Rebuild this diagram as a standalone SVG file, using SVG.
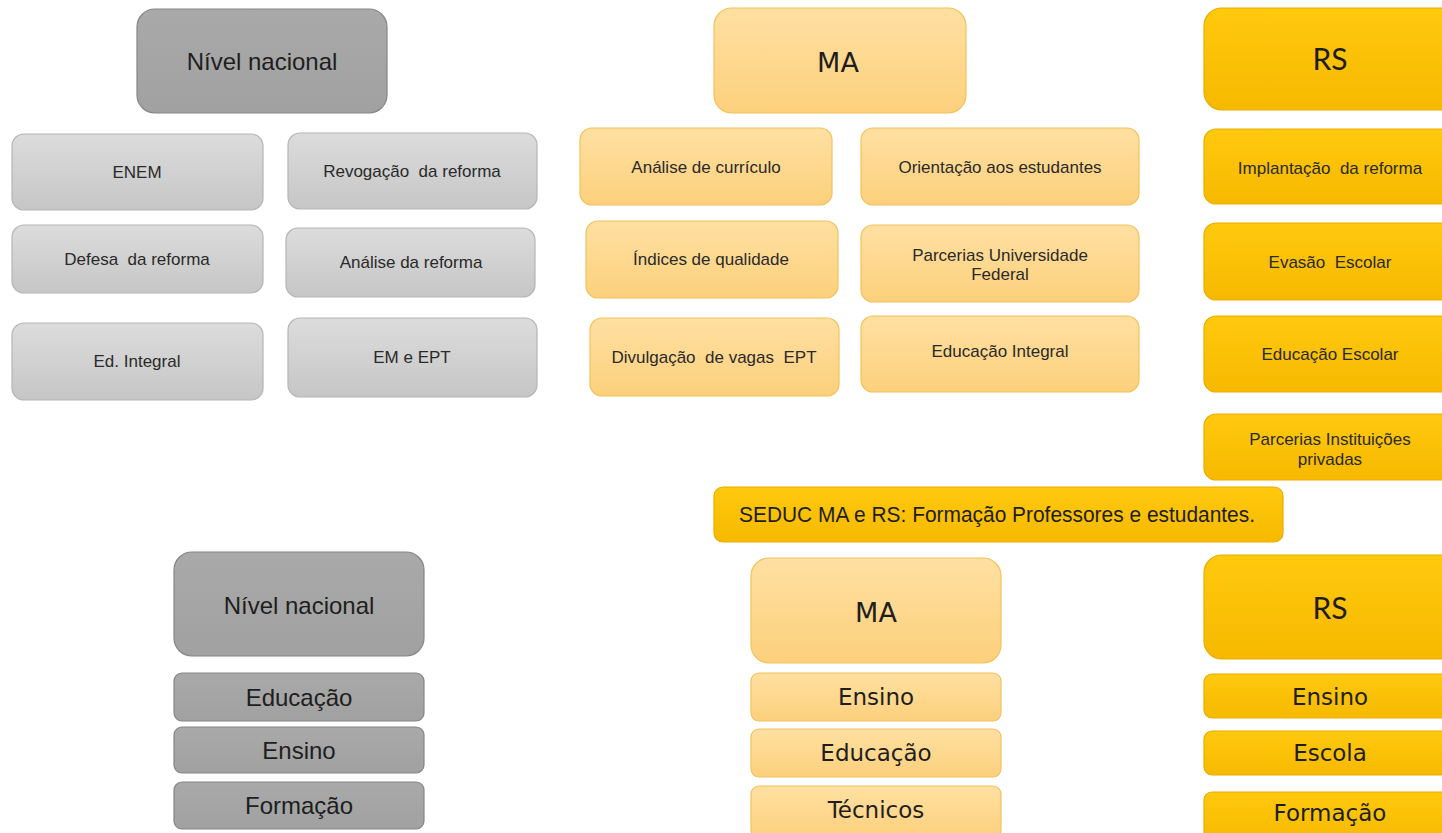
<svg xmlns="http://www.w3.org/2000/svg" width="1442" height="833" viewBox="0 0 1442 833">
  <defs>
    <linearGradient id="gLight" x1="0" y1="0" x2="0" y2="1">
      <stop offset="0" stop-color="#dcdcdc"/>
      <stop offset="1" stop-color="#c6c6c6"/>
    </linearGradient>
    <linearGradient id="gDark" x1="0" y1="0" x2="0" y2="1">
      <stop offset="0" stop-color="#a9a9a9"/>
      <stop offset="1" stop-color="#a1a1a1"/>
    </linearGradient>
    <linearGradient id="gMA" x1="0" y1="0" x2="0" y2="1">
      <stop offset="0" stop-color="#ffe0a2"/>
      <stop offset="1" stop-color="#fcd07c"/>
    </linearGradient>
    <linearGradient id="gRS" x1="0" y1="0" x2="0" y2="1">
      <stop offset="0" stop-color="#ffc90e"/>
      <stop offset="1" stop-color="#f6b900"/>
    </linearGradient>
    <style>
      .light { fill: url(#gLight); stroke: #b5b5b5; stroke-width: 1.2; }
      .dark { fill: url(#gDark); stroke: #858585; stroke-width: 1.2; }
      .ma { fill: url(#gMA); stroke: #f2c25c; stroke-width: 1.2; }
      .rs { fill: url(#gRS); stroke: #e8ad00; stroke-width: 1.2; }
      text { fill: #1e1e1e; text-anchor: middle; dominant-baseline: central; }
      .sm { font-family: "Liberation Sans", Arial, sans-serif; font-size: 17px; fill: #2a2a2a; }
      .hd { font-family: "Liberation Sans", Arial, sans-serif; font-size: 24px; }
      .big { font-family: "DejaVu Sans", Verdana, sans-serif; font-size: 27px; }
      .ver { font-family: "DejaVu Sans", Verdana, sans-serif; font-size: 23px; }
      .calh { font-family: "Lato", "Open Sans", sans-serif; font-size: 30px; }
      .bar { font-family: "Liberation Sans", Arial, sans-serif; font-size: 22px; }
    </style>
  </defs>

  <rect width="1442" height="833" fill="#ffffff"/>

  <!-- national level, upper block -->
  <g id="nac1"><rect class="dark" x="137" y="9" width="250" height="104" rx="18"/><text class="hd" x="262" y="61">Nível nacional</text></g>
  <g id="enem"><rect class="light" x="12" y="134" width="251" height="76" rx="12"/><text class="sm" x="137" y="172">ENEM</text></g>
  <g id="revogacao"><rect class="light" x="288" y="133" width="249" height="76" rx="12"/><text class="sm" x="412" y="171" xml:space="preserve">Revogação  da reforma</text></g>
  <g id="defesa"><rect class="light" x="12" y="225" width="251" height="68" rx="12"/><text class="sm" x="137" y="259" xml:space="preserve">Defesa  da reforma</text></g>
  <g id="analise-reforma"><rect class="light" x="286" y="228" width="249" height="69" rx="12"/><text class="sm" x="411" y="262">Análise da reforma</text></g>
  <g id="ed-integral"><rect class="light" x="12" y="323" width="251" height="77" rx="12"/><text class="sm" x="137" y="361">Ed. Integral</text></g>
  <g id="em-ept"><rect class="light" x="288" y="318" width="249" height="79" rx="12"/><text class="sm" x="412" y="357">EM e EPT</text></g>

  <!-- MA, upper block -->
  <g id="ma1"><rect class="ma" x="714" y="8" width="252" height="105" rx="18"/><text class="big" x="838" y="62">MA</text></g>
  <g id="curriculo"><rect class="ma" x="580" y="128" width="252" height="77" rx="12"/><text class="sm" x="706" y="167">Análise de currículo</text></g>
  <g id="orientacao"><rect class="ma" x="861" y="128" width="278" height="77" rx="12"/><text class="sm" x="1000" y="167">Orientação aos estudantes</text></g>
  <g id="indices"><rect class="ma" x="586" y="221" width="252" height="77" rx="12"/><text class="sm" x="711" y="259">Índices de qualidade</text></g>
  <g id="parcerias-uf"><rect class="ma" x="861" y="225" width="278" height="77" rx="12"/><text class="sm" x="1000" y="255">Parcerias Universidade</text><text class="sm" x="1000" y="274">Federal</text></g>
  <g id="divulgacao"><rect class="ma" x="590" y="318" width="249" height="78" rx="12"/><text class="sm" x="714" y="357" xml:space="preserve">Divulgação  de vagas  EPT</text></g>
  <g id="ed-integral-ma"><rect class="ma" x="861" y="316" width="278" height="76" rx="12"/><text class="sm" x="1000" y="351">Educação Integral</text></g>

  <!-- RS, upper block -->
  <g id="rs1"><rect class="rs" x="1204" y="8" width="254" height="102" rx="18"/><text class="calh" x="1330" y="58">RS</text></g>
  <g id="implantacao"><rect class="rs" x="1204" y="129" width="254" height="75" rx="12"/><text class="sm" x="1330" y="168" xml:space="preserve">Implantação  da reforma</text></g>
  <g id="evasao"><rect class="rs" x="1204" y="223" width="254" height="77" rx="12"/><text class="sm" x="1330" y="262" xml:space="preserve">Evasão  Escolar</text></g>
  <g id="educacao-escolar"><rect class="rs" x="1204" y="316" width="254" height="76" rx="12"/><text class="sm" x="1330" y="354">Educação Escolar</text></g>
  <g id="parcerias-ip"><rect class="rs" x="1204" y="414" width="254" height="66" rx="12"/><text class="sm" x="1330" y="439">Parcerias Instituições</text><text class="sm" x="1330" y="459">privadas</text></g>

  <!-- shared banner -->
  <g id="seduc"><rect class="rs" x="714" y="487" width="569" height="55" rx="9"/><text class="bar" x="997" y="514" textLength="516" lengthAdjust="spacingAndGlyphs">SEDUC MA e RS: Formação Professores e estudantes.</text></g>

  <!-- national level, lower block -->
  <g id="nac2"><rect class="dark" x="174" y="552" width="250" height="104" rx="18"/><text class="hd" x="299" y="605">Nível nacional</text></g>
  <g id="nac-educacao"><rect class="dark" x="174" y="673" width="250" height="48" rx="8"/><text class="hd" x="299" y="697">Educação</text></g>
  <g id="nac-ensino"><rect class="dark" x="174" y="727" width="250" height="46" rx="8"/><text class="hd" x="299" y="750">Ensino</text></g>
  <g id="nac-formacao"><rect class="dark" x="174" y="782" width="250" height="47" rx="8"/><text class="hd" x="299" y="805">Formação</text></g>

  <!-- MA, lower block -->
  <g id="ma2"><rect class="ma" x="751" y="558" width="250" height="105" rx="18"/><text class="big" x="876" y="612">MA</text></g>
  <g id="ma-ensino"><rect class="ma" x="751" y="673" width="250" height="48" rx="8"/><text class="ver" x="876" y="697">Ensino</text></g>
  <g id="ma-educacao"><rect class="ma" x="751" y="729" width="250" height="48" rx="8"/><text class="ver" x="876" y="753">Educação</text></g>
  <g id="ma-tecnicos"><rect class="ma" x="751" y="786" width="250" height="52" rx="8"/><text class="ver" x="876" y="810">Técnicos</text></g>

  <!-- RS, lower block -->
  <g id="rs2"><rect class="rs" x="1204" y="555" width="258" height="104" rx="18"/><text class="calh" x="1330" y="607">RS</text></g>
  <g id="rs-ensino"><rect class="rs" x="1204" y="674" width="258" height="44" rx="8"/><text class="ver" x="1330" y="697">Ensino</text></g>
  <g id="rs-escola"><rect class="rs" x="1204" y="731" width="258" height="44" rx="8"/><text class="ver" x="1330" y="753">Escola</text></g>
  <g id="rs-formacao"><rect class="rs" x="1204" y="792" width="258" height="50" rx="8"/><text class="ver" x="1330" y="813">Formação</text></g>

  <!-- the layout has no connectors -->
  <g id="connectors"/>
</svg>
